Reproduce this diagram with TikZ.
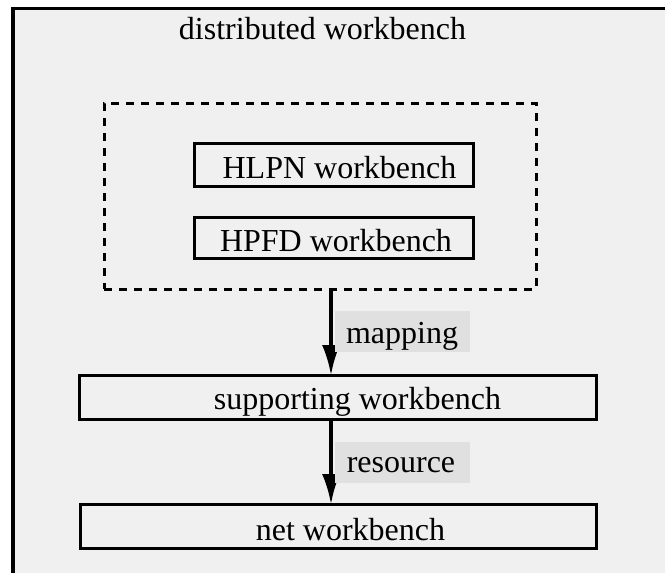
\documentclass[tikz,border=0pt]{standalone}
\usepackage{fontspec}
\setmainfont{Liberation Serif}
\usetikzlibrary{arrows.meta}
\definecolor{panelgray}{RGB}{240,240,240}
\definecolor{taggray}{RGB}{224,224,224}
\begin{document}
\begin{tikzpicture}[x=1pt,y=-1pt,
  every node/.style={font=\fontsize{32}{38}\selectfont, inner sep=0pt, outer sep=0pt},
  wbox/.style={draw=black, line width=3pt, rectangle},
  groupbox/.style={draw=black, line width=3pt, dash pattern=on 8pt off 7pt, rectangle},
  tag/.style={fill=taggray, rectangle, minimum width=135pt, minimum height=41pt},
  txt/.style={anchor=base},
  flow/.style={line width=3.2pt, -{Latex[length=30pt,width=18pt]}}]
  \useasboundingbox (0,0) rectangle (665,573);
  % outer workbench frame, running past the right and bottom edges
  \fill[white] (0,0) rectangle (665,573);
  \draw[fill=panelgray, line width=3.2pt] (13,8.5) rectangle (690,600);
  \node[txt] (title) at (322.5,39) {distributed workbench};

  % group of modelling workbenches
  \node[groupbox, minimum width=432pt, minimum height=186pt] (grp) at (320,196) {};
  \node[wbox, minimum width=279pt, minimum height=43pt] (hlpn) at (333.5,164.5) {};
  \node[txt] (hlpntxt) at (339.5,178) {HLPN workbench};
  \node[wbox, minimum width=279pt, minimum height=41pt] (hpfd) at (333.5,237.5) {};
  \node[txt] (hpfdtxt) at (336,251) {HPFD workbench};

  % lower layers
  \node[wbox, minimum width=517pt, minimum height=44pt] (sup) at (337.5,397) {};
  \node[txt] (suptxt) at (357.5,409) {supporting workbench};
  \node[wbox, minimum width=516pt, minimum height=44pt] (net) at (338,526) {};
  \node[txt] (nettxt) at (350.5,540) {net workbench};

  % connectors
  \coordinate (axis) at (331,0);
  \draw[flow] (grp.south -| axis) -- (sup.north -| axis);
  \draw[flow] (sup.south -| axis) -- (net.north -| axis);

  \node[tag] (maptag) at (402.5,331.5) {};
  \node[txt] (maptxt) at (402,343) {mapping};
  \node[tag] (restag) at (402,462.5) {};
  \node[txt] (restxt) at (401,472) {resource};
\end{tikzpicture}
\end{document}
